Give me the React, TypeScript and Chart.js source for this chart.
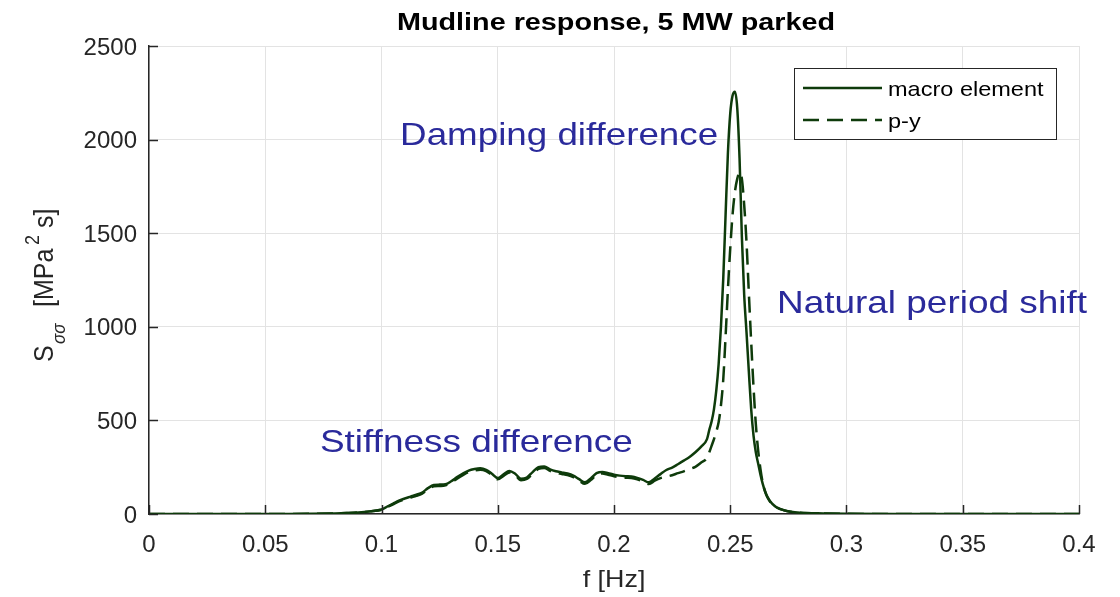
import React, { useEffect, useRef } from "react";
import { Chart, registerables } from "chart.js";

Chart.register(...registerables);

// ---------------- data ----------------
const freq = [
  0, 0.02, 0.04, 0.06, 0.07, 0.08, 0.085, 0.09, 0.095,
  0.1, 0.1025, 0.105, 0.1075, 0.11, 0.1125, 0.115, 0.1175, 0.12, 0.1225, 0.125, 0.1275,
  0.13, 0.1325, 0.135, 0.1375, 0.14, 0.1425, 0.145, 0.1475, 0.15, 0.1525, 0.155, 0.1575,
  0.16, 0.1625, 0.165, 0.1675, 0.17, 0.1725, 0.175, 0.1775, 0.18, 0.1825, 0.185, 0.1875,
  0.19, 0.1925, 0.195, 0.1975, 0.2, 0.2025, 0.205, 0.2075, 0.21, 0.2125, 0.215, 0.2175,
  0.22, 0.2225, 0.225, 0.2275, 0.23, 0.2325, 0.235, 0.2375, 0.24,
  0.241, 0.242, 0.243, 0.244, 0.245, 0.246, 0.247, 0.248, 0.249, 0.25, 0.251, 0.252, 0.253,
  0.254, 0.255, 0.256, 0.257, 0.258, 0.259, 0.26, 0.261, 0.262, 0.263, 0.264, 0.265, 0.266,
  0.268, 0.27, 0.273, 0.276, 0.28, 0.29, 0.3, 0.32, 0.35, 0.4,
];

const macroElement = [
  0, 0, 0, 0, 1, 3, 5, 8, 14,
  24, 40, 56, 72, 83, 93, 103, 115, 138, 155, 157, 159,
  175, 197, 216, 232, 240, 244, 236, 215, 192, 212, 230, 215,
  188, 195, 224, 250, 254, 238, 228, 222, 216, 205, 186, 169,
  190, 218, 225, 218, 210, 205, 202, 200, 193, 182, 169, 190,
  213, 235, 248, 266, 285, 305, 330, 360, 400,
  450, 495, 560, 660, 800, 1000, 1260, 1600, 1930, 2140, 2235, 2256, 2170,
  1900, 1480, 1170, 970, 760, 560, 420, 330, 270, 210, 160, 120, 90,
  55, 35, 20, 12, 7, 3, 1, 0, 0, 0,
];

const pY = [
  0, 0, 0, 0, 1, 3, 5, 8, 14,
  22, 37, 52, 68, 78, 88, 97, 109, 130, 148, 150, 153,
  168, 189, 208, 224, 232, 236, 229, 208, 185, 204, 222, 208,
  180, 187, 215, 241, 246, 230, 220, 214, 208, 197, 178, 161,
  181, 209, 217, 210, 202, 197, 194, 192, 185, 174, 160, 178,
  192, 200, 207, 218, 228, 240, 252, 275, 300,
  330, 365, 400, 440, 490, 580, 720, 950, 1200, 1420, 1600, 1720, 1790,
  1825, 1790, 1650, 1450, 1180, 920, 680, 480, 340, 240, 165, 120, 90,
  52, 36, 21, 12, 7, 3, 1, 0, 0, 0,
];

const seriesLabels = ["macro element", "p-y"];
const xTicks = [0, 0.05, 0.1, 0.15, 0.2, 0.25, 0.3, 0.35, 0.4];
const yTicks = [0, 500, 1000, 1500, 2000, 2500];
const titleText = "Mudline response, 5 MW parked";
const xLabelText = "f [Hz]";
const annotationTexts = ["Damping difference", "Natural period shift", "Stiffness difference"];
const annotationF = [0.108, 0.2701, 0.0735];
const annotationV = [1971, 1074, 329];

// ---------------- style ----------------
const LINE_COLOR = "#0e3b0b";
const TEXT_COLOR = "#262626";
const ANNOT_COLOR = "#2a2a9b";
const FONT = '"Liberation Sans", Arial, Helvetica, sans-serif';
const annotationWidths = [318, 310, 313];

function drawStretched(
  ctx: CanvasRenderingContext2D,
  text: string,
  x: number,
  y: number,
  font: string,
  color: string,
  align: "left" | "center",
  targetW: number | null,
  sxDefault = 1.12
) {
  ctx.save();
  ctx.font = font;
  ctx.fillStyle = color;
  ctx.textBaseline = "alphabetic";
  ctx.textAlign = "left";
  const w = ctx.measureText(text).width;
  const sx = targetW ? targetW / w : sxDefault;
  const fullW = w * sx;
  const left = align === "center" ? x - fullW / 2 : x;
  ctx.translate(left, y);
  ctx.scale(sx, 1);
  ctx.fillText(text, 0, 0);
  ctx.restore();
}

const decorPlugin = {
  id: "decor",
  afterDraw(chart: any) {
    const ctx: CanvasRenderingContext2D = chart.ctx;
    const { left, right, bottom } = chart.chartArea;
    const xs = chart.scales.x;
    const ys = chart.scales.y;

    // inward tick marks
    ctx.save();
    ctx.strokeStyle = TEXT_COLOR;
    ctx.lineWidth = 1.5;
    ctx.beginPath();
    xTicks.forEach((v) => {
      const px = Math.round(xs.getPixelForValue(v)) + 0.5;
      ctx.moveTo(px, bottom);
      ctx.lineTo(px, bottom - 9);
    });
    yTicks.forEach((v) => {
      const py = Math.round(ys.getPixelForValue(v)) + 0.5;
      ctx.moveTo(left, py);
      ctx.lineTo(left + 9, py);
    });
    ctx.stroke();
    ctx.restore();

    // title
    drawStretched(ctx, titleText, (left + right) / 2 + 2, 29.5, `bold 23px ${FONT}`, "#000", "center", 438);

    // x label
    drawStretched(ctx, xLabelText, (left + right) / 2, 587, `24px ${FONT}`, TEXT_COLOR, "center", null, 1.12);

    // y label (rotated, with sub/superscript)
    ctx.save();
    ctx.translate(53, 362);
    ctx.rotate(-Math.PI / 2);
    ctx.scale(1, 1.1);
    ctx.fillStyle = TEXT_COLOR;
    ctx.textBaseline = "alphabetic";
    ctx.textAlign = "left";
    ctx.font = `25px ${FONT}`;
    ctx.fillText("S", 0, 0);
    ctx.font = `italic 17px ${FONT}`;
    ctx.fillText("σσ", 18, 11);
    ctx.font = `25px ${FONT}`;
    ctx.fillText("[MPa", 55, 0);
    ctx.font = `18px ${FONT}`;
    ctx.fillText("2", 117, -13);
    ctx.font = `25px ${FONT}`;
    ctx.fillText("s]", 134, 0);
    ctx.restore();

    // annotations
    annotationTexts.forEach((t, i) => {
      const px = xs.getPixelForValue(annotationF[i]);
      const py = ys.getPixelForValue(annotationV[i]);
      drawStretched(ctx, t, px, py, `32px ${FONT}`, ANNOT_COLOR, "left", annotationWidths[i]);
    });

    // legend
    const bx = 794.5, by = 68.5, bw = 262, bh = 71;
    ctx.save();
    ctx.fillStyle = "#fff";
    ctx.fillRect(bx, by, bw, bh);
    ctx.strokeStyle = TEXT_COLOR;
    ctx.lineWidth = 1;
    ctx.strokeRect(bx, by, bw, bh);
    const rows = [88, 120];
    chart.data.datasets.forEach((ds: any, i: number) => {
      ctx.save();
      ctx.strokeStyle = ds.borderColor;
      ctx.lineWidth = ds.borderWidth;
      ctx.setLineDash(ds.borderDash || []);
      ctx.beginPath();
      ctx.moveTo(803, rows[i]);
      ctx.lineTo(882, rows[i]);
      ctx.stroke();
      ctx.restore();
      drawStretched(ctx, ds.label, 888, rows[i] + 7.5, `21px ${FONT}`, "#000", "left", null, 1.12);
    });
    ctx.restore();
  },
};

export default function App() {
  const ref = useRef<HTMLCanvasElement | null>(null);

  useEffect(() => {
    if (!ref.current) return;
    const chart = new Chart(ref.current, {
      type: "line",
      data: {
        datasets: [
          {
            label: seriesLabels[0],
            data: freq.map((f, i) => ({ x: f, y: macroElement[i] })),
            borderColor: LINE_COLOR,
            borderWidth: 2.5,
            pointRadius: 0,
            cubicInterpolationMode: "monotone",
            fill: false,
          },
          {
            label: seriesLabels[1],
            data: freq.map((f, i) => ({ x: f, y: pY[i] })),
            borderColor: LINE_COLOR,
            borderWidth: 2.5,
            borderDash: [16, 8],
            pointRadius: 0,
            cubicInterpolationMode: "monotone",
            fill: false,
          },
        ],
      },
      options: {
        animation: false,
        responsive: false,
        devicePixelRatio: 1,
        layout: { padding: { left: 0, right: 41, top: 46, bottom: 0 } },
        plugins: {
          legend: { display: false },
          tooltip: { enabled: false },
          title: { display: false },
        },
        scales: {
          x: {
            type: "linear",
            min: 0,
            max: 0.4,
            afterBuildTicks: (s: any) => {
              s.ticks = xTicks.map((v) => ({ value: v }));
            },
            afterFit: (s: any) => {
              s.height = 83;
            },
            ticks: {
              font: { family: FONT, size: 24 },
              color: TEXT_COLOR,
              padding: 17,
              maxRotation: 0,
              autoSkip: false,
              callback: (v: any) => String(Number(Number(v).toFixed(2))),
            },
            grid: { color: "#e3e3e3", lineWidth: 1, drawTicks: false },
            border: { display: true, color: TEXT_COLOR, width: 1.5 },
          },
          y: {
            type: "linear",
            min: 0,
            max: 2500,
            afterBuildTicks: (s: any) => {
              s.ticks = yTicks.map((v) => ({ value: v }));
            },
            afterFit: (s: any) => {
              s.width = 149;
            },
            ticks: {
              font: { family: FONT, size: 24 },
              color: TEXT_COLOR,
              padding: 12,
              labelOffset: 2,
              autoSkip: false,
              callback: (v: any) => String(v),
            },
            grid: { color: "#e3e3e3", lineWidth: 1, drawTicks: false },
            border: { display: true, color: TEXT_COLOR, width: 1.5 },
          },
        },
      },
      plugins: [decorPlugin],
    } as any);
    return () => chart.destroy();
  }, []);

  return (
    <div style={{ position: "fixed", left: 0, top: 0, width: 1120, height: 597, background: "#fff" }}>
      <canvas ref={ref} width={1120} height={597} style={{ width: 1120, height: 597, display: "block" }} />
    </div>
  );
}
